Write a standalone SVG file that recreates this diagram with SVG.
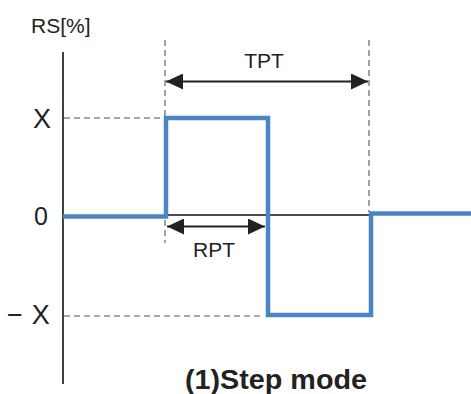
<svg xmlns="http://www.w3.org/2000/svg" width="471" height="394" viewBox="0 0 471 394">
<style>
.t{font-family:"Liberation Sans",Arial,sans-serif;fill:#222}
.dash{stroke:#8a8a8a;stroke-width:1.6;stroke-dasharray:6 4;fill:none}
.ax{stroke:#111;stroke-width:1.6;fill:none}
.sig{stroke:#4a86c6;stroke-width:4.5;fill:none;stroke-linejoin:miter}
.arr{stroke:#222;stroke-width:2;fill:none;marker-start:url(#ah);marker-end:url(#ah)}
</style>
<defs>
<marker id="ah" markerUnits="userSpaceOnUse" markerWidth="18" markerHeight="16" refX="17" refY="8" orient="auto-start-reverse">
<path d="M0,0 L17,8 L0,16 Z" fill="#222"/>
</marker>
</defs>
<rect width="471" height="394" fill="#fff"/>
<g id="axes">
<line class="ax" x1="63" y1="52" x2="63" y2="384"/>
<line class="ax" x1="166" y1="215" x2="370" y2="215"/>
</g>
<g id="guides">
<line class="dash" x1="165" y1="40" x2="165" y2="243"/>
<line class="dash" x1="369" y1="40" x2="369" y2="212"/>
<line class="dash" x1="64" y1="118" x2="164" y2="118"/>
<line class="dash" x1="64" y1="316" x2="264" y2="316"/>
</g>
<g id="signal">
<polyline class="sig" points="63,216.5 166,216.5 166,118 268,118 268,315 371,315 371,213.5 471,213.5"/>
</g>
<g id="connectors">
<line id="tpt-arrow" class="arr" x1="166" y1="81.5" x2="368" y2="81.5"/>
<line id="rpt-arrow" class="arr" x1="167" y1="226.5" x2="265" y2="226.5"/>
</g>
<g id="labels">
<text class="t" x="31" y="33" font-size="21">RS[%]</text>
<text class="t" x="51" y="128" font-size="27" text-anchor="end">X</text>
<text class="t" x="48" y="225" font-size="25" text-anchor="end">0</text>
<text class="t" x="7" y="324" font-size="27">−<tspan dx="9">X</tspan></text>
<text class="t" x="264" y="68" font-size="21" text-anchor="middle">TPT</text>
<text class="t" x="214" y="257" font-size="21" text-anchor="middle">RPT</text>
<text class="t" x="185" y="389" font-size="27" font-weight="bold" textLength="182" lengthAdjust="spacingAndGlyphs">(1)Step mode</text>
</g>
</svg>
